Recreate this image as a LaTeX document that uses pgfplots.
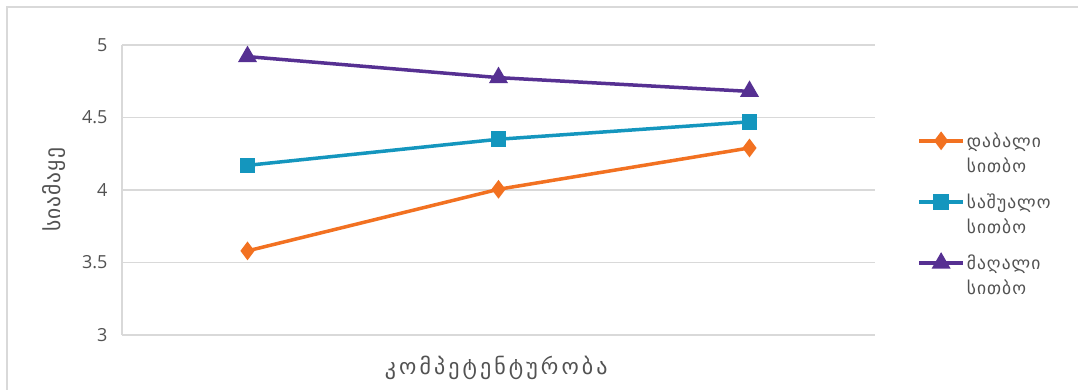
\documentclass[border=0pt]{standalone}
\usepackage{fontspec}
\setmainfont{Open Sans}
\newfontfamily\geo{DejaVu Sans}
\usepackage{pgfplots}
\pgfplotsset{compat=1.18}
\definecolor{cor}{RGB}{242,113,33}
\definecolor{cteal}{RGB}{20,150,190}
\definecolor{cpur}{RGB}{86,48,146}
\definecolor{cgrid}{RGB}{217,217,217}
\definecolor{ctxt}{RGB}{82,82,82}
\begin{document}
\begin{tikzpicture}[x=1pt,y=1pt]
\path[use as bounding box, fill=white] (0,0) rectangle (1078,390);
\draw[cgrid, line width=1.5pt] (7,0) -- (7,383) -- (1078,383);
\begin{axis}[
  at={(122pt,55pt)}, anchor=south west,
  scale only axis, width=753pt, height=290pt,
  xmin=0.5, xmax=3.5, ymin=3, ymax=5,
  ytick={3,3.5,4,4.5,5}, xtick=\empty,
  ymajorgrids, grid style={draw=cgrid, line width=1.3pt},
  axis x line*=bottom, axis y line*=left,
  axis line style={draw=cgrid, line width=1.3pt, -},
  major tick length=0pt,
  /pgf/number format/assume math mode=true,
  yticklabel style={font=\fontsize{18}{20}\selectfont, text=ctxt, xshift=-11pt},
  ylabel={\geo\addfontfeatures{LetterSpace=5}სიამაყე},
  ylabel style={at={(axis description cs:-0.09,0.5)}, anchor=center, font=\fontsize{21.5}{23}\selectfont, text=ctxt},
  xlabel={\geo\addfontfeatures{LetterSpace=14}კომპეტენტურობა},
  xlabel style={at={(axis description cs:0.497,-0.114)}, anchor=center, font=\fontsize{22}{24}\selectfont, text=ctxt},
  legend style={at={(axis description cs:1.056,0.705)}, anchor=north west, draw=none, fill=none,
    font=\geo\addfontfeatures{LetterSpace=6}\fontsize{17.5}{25}\selectfont, text=ctxt, cells={align=left},
    row sep=16pt, inner sep=0pt},
  legend cell align=left,
  legend image code/.code={\draw[mark repeat=2,mark phase=2,#1] plot coordinates {(0pt,12.5pt) (22pt,12.5pt) (44pt,12.5pt)};},
  every axis plot/.append style={line width=3.5pt},
]
\addplot[cor, mark=diamond*, mark size=6.5pt] coordinates {(1,3.58) (2,4.005) (3,4.29)};
\addlegendentry{დაბალი\\სითბო}
\addplot[cteal, mark=square*, mark size=6pt] coordinates {(1,4.17) (2,4.35) (3,4.47)};
\addlegendentry{საშუალო\\სითბო}
\addplot[cpur, mark=triangle*, mark size=7.5pt] coordinates {(1,4.92) (2,4.775) (3,4.68)};
\addlegendentry{მაღალი\\სითბო}
\end{axis}
\end{tikzpicture}
\end{document}
